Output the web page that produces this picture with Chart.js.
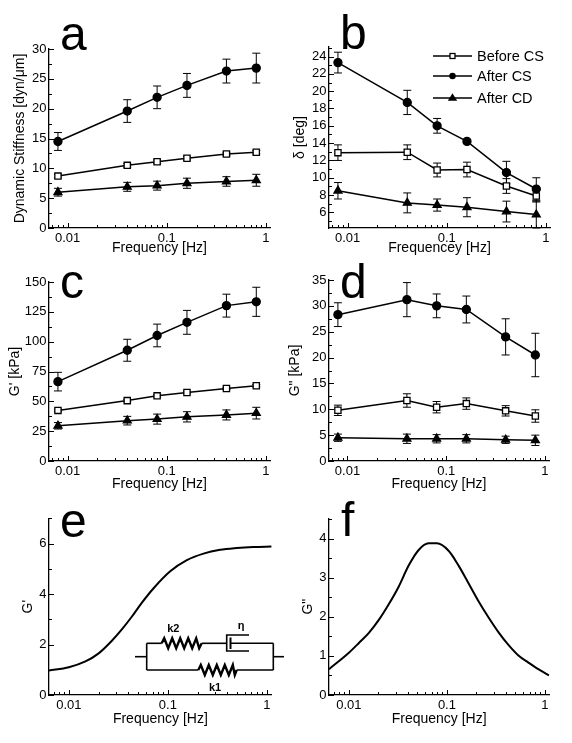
<!DOCTYPE html>
<html>
<head>
<meta charset="utf-8">
<script src="https://cdn.jsdelivr.net/npm/chart.js@4.4.0/dist/chart.umd.min.js"></script>
<style>
  html, body { margin: 0; padding: 0; background: #fff; }
  #page { position: relative; width: 572px; height: 743px; overflow: hidden; }
  canvas { position: absolute; }
  #overlay { position: absolute; left: 0; top: 0; pointer-events: none; }
  #overlay text { font-family: "Liberation Sans", Arial, sans-serif; fill: #000; }
</style>
</head>
<body>
<div id="page">
  <canvas id="pa" width="286" height="258" style="left:0;top:0"></canvas>
  <canvas id="pb" width="292" height="258" style="left:280px;top:0"></canvas>
  <canvas id="pc" width="286" height="250" style="left:0;top:258px"></canvas>
  <canvas id="pd" width="292" height="250" style="left:280px;top:258px"></canvas>
  <canvas id="pe" width="286" height="235" style="left:0;top:508px"></canvas>
  <canvas id="pf" width="292" height="235" style="left:280px;top:508px"></canvas>

  <svg id="overlay" width="572" height="743" viewBox="0 0 572 743">
    <!-- panel letters -->
    <g font-size="48">
      <text x="60" y="50">a</text>
      <text x="340" y="49">b</text>
      <text x="60" y="298">c</text>
      <text x="340" y="298">d</text>
      <text x="60" y="537">e</text>
      <text x="341" y="536">f</text>
    </g>
    <!-- legend of panel b -->
    <g stroke="#000" stroke-width="1.3">
      <line x1="433" y1="56" x2="472" y2="56"/>
      <rect x="450" y="53.5" width="5" height="5" fill="#fff"/>
      <line x1="433" y1="76" x2="472" y2="76"/>
      <circle cx="452.5" cy="76" r="2.6" fill="#000"/>
      <line x1="433" y1="98" x2="472" y2="98"/>
      <polygon points="452.5,94.5 456,100 449,100" fill="#000"/>
    </g>
    <g font-size="14.5">
      <text x="477" y="61">Before CS</text>
      <text x="477" y="81">After CS</text>
      <text x="477" y="103">After CD</text>
    </g>
    <!-- circuit sketch in panel e -->
    <g stroke="#000" stroke-width="1.6" fill="none">
      <line x1="135" y1="656.7" x2="146.7" y2="656.7"/>
      <line x1="146.7" y1="643.3" x2="146.7" y2="670"/>
      <line x1="273.3" y1="643.3" x2="273.3" y2="670"/>
      <line x1="273.3" y1="656.7" x2="284" y2="656.7"/>
      <line x1="146.7" y1="643.3" x2="161.7" y2="643.3"/>
      <polyline stroke-width="2.4" points="161.7,643.3 164.2,638.3 168.2,648.3 172.2,638.3 176.2,648.3 180.2,638.3 184.2,648.3 188.2,638.3 192.2,648.3 196.2,638.3 199.2,648.3 201.7,643.3"/>
      <line x1="201.7" y1="643.3" x2="226.7" y2="643.3"/>
      <polyline points="249,635 226.7,635 226.7,651 249,651"/>
      <line x1="230.5" y1="637.5" x2="230.5" y2="649" stroke-width="2"/>
      <line x1="230.5" y1="643.3" x2="273.3" y2="643.3"/>
      <line x1="146.7" y1="670" x2="198.3" y2="670"/>
      <polyline stroke-width="2.4" points="198.3,670 200.8,665 204.8,675 208.8,665 212.8,675 216.8,665 220.8,675 224.8,665 228.8,675 232.8,665 234.8,675 236.7,670"/>
      <line x1="236.7" y1="670" x2="273.3" y2="670"/>
    </g>
    <g font-size="11" font-weight="bold" text-anchor="middle">
      <text x="173.3" y="632">k2</text>
      <text x="241" y="629">η</text>
      <text x="215" y="690.5">k1</text>
    </g>
  </svg>
</div>

<script>
const FONT = '"Liberation Sans", Arial, sans-serif';

// shared frequencies of the measurements (Hz)
const freq = [0.008, 0.04, 0.08, 0.16, 0.4, 0.8];
const xTickValues = [0.01, 0.1, 1];
const seriesNames = ['Before CS', 'After CS', 'After CD'];

// a: dynamic stiffness [dyn/um]
const stiffBefore = [8.7, 10.5, 11.1, 11.7, 12.4, 12.7];
const stiffBeforeErr = [0.3, 0.3, 0.3, 0.3, 0.3, 0.3];
const stiffAfterCS = [14.5, 19.6, 21.9, 23.9, 26.3, 26.8];
const stiffAfterCSErr = [1.5, 1.9, 1.9, 2.0, 2.0, 2.5];
const stiffAfterCD = [6.0, 6.9, 7.1, 7.5, 7.8, 8.0];
const stiffAfterCDErr = [0.65, 0.75, 0.75, 0.85, 0.8, 1.0];

// b: phase angle delta [deg]
const deltaBefore = [12.9, 12.95, 10.9, 10.95, 9.05, 7.9];
const deltaBeforeErr = [0.9, 0.85, 0.8, 0.85, 0.85, 0.7];
const deltaAfterCS = [23.3, 18.7, 16.0, 14.2, 10.6, 8.7];
const deltaAfterCSErr = [1.2, 1.4, 0.85, 0.2, 1.3, 1.3];
const deltaAfterCD = [8.5, 7.1, 6.85, 6.6, 6.1, 5.75];
const deltaAfterCDErr = [0.95, 1.15, 0.7, 1.1, 1.2, 1.55];

// c: G' [kPa]
const gpBefore = [42.4, 50.6, 54.6, 57.4, 60.8, 63.0];
const gpBeforeErr = [1, 1, 1, 1, 1, 1];
const gpAfterCS = [66.5, 92.8, 105.2, 116.2, 130.2, 133.4];
const gpAfterCSErr = [7.8, 9.2, 9.5, 10, 9.6, 12.2];
const gpAfterCD = [29.5, 33.8, 35.1, 37.0, 38.6, 40.1];
const gpAfterCDErr = [2.7, 3.6, 4.2, 4.3, 4.2, 4.9];

// d: G" [kPa]
const gppBefore = [9.8, 11.7, 10.4, 11.1, 9.7, 8.7];
const gppBeforeErr = [1.0, 1.3, 1.1, 1.1, 1.0, 1.2];
const gppAfterCS = [28.3, 31.2, 30.0, 29.3, 24.0, 20.5];
const gppAfterCSErr = [2.3, 3.3, 2.3, 2.6, 3.5, 4.2];
const gppAfterCD = [4.5, 4.3, 4.3, 4.3, 4.1, 4.0];
const gppAfterCDErr = [0.7, 0.9, 0.8, 0.8, 0.7, 1.0];

// e, f: model curves
const modelFreqE = [0.0063, 0.01, 0.0147, 0.02, 0.0272, 0.0343, 0.0432, 0.0545, 0.0718, 0.1057, 0.1556, 0.229, 0.337, 0.497, 0.73, 1.117];
const modelGp = [0.97, 1.1, 1.33, 1.65, 2.15, 2.6, 3.1, 3.65, 4.23, 4.9, 5.34, 5.6, 5.75, 5.82, 5.86, 5.88];
const modelFreqF = [0.00627, 0.01, 0.01265, 0.016, 0.0202, 0.0255, 0.0322, 0.0407, 0.0515, 0.0651, 0.0791, 0.104, 0.1315, 0.166, 0.21, 0.265, 0.335, 0.424, 0.536, 0.677, 0.855, 1.1];
const modelGpp = [0.66, 1.08, 1.33, 1.59, 1.92, 2.32, 2.77, 3.31, 3.71, 3.88, 3.88, 3.69, 3.31, 2.86, 2.4, 1.99, 1.61, 1.28, 1.01, 0.83, 0.66, 0.5];

// y tick labels
const yTicksA = [0, 5, 10, 15, 20, 25, 30];
const yTicksB = [6, 8, 10, 12, 14, 16, 18, 20, 22, 24];
const yTicksC = [0, 25, 50, 75, 100, 125, 150];
const yTicksD = [0, 5, 10, 15, 20, 25, 30, 35];
const yTicksE = [0, 2, 4, 6];
const yTicksF = [0, 1, 2, 3, 4];

// vertical error bars, drawn under the lines and markers
const errorBars = {
  id: 'errorBars',
  beforeDatasetsDraw(chart) {
    const ctx = chart.ctx, xs = chart.scales.x, ys = chart.scales.y;
    ctx.save();
    ctx.strokeStyle = '#000';
    ctx.lineWidth = 1;
    chart.data.datasets.forEach(ds => {
      if (!ds.err) return;
      ds.data.forEach((p, i) => {
        const e = ds.err[i];
        const x = xs.getPixelForValue(p.x);
        const y1 = ys.getPixelForValue(p.y + e);
        const y2 = ys.getPixelForValue(p.y - e);
        ctx.beginPath();
        ctx.moveTo(x, y1); ctx.lineTo(x, y2);
        ctx.moveTo(x - 4, y1); ctx.lineTo(x + 4, y1);
        ctx.moveTo(x - 4, y2); ctx.lineTo(x + 4, y2);
        ctx.stroke();
      });
    });
    ctx.restore();
  }
};

// inward major/minor tick marks on both axes
const inTicks = {
  id: 'inTicks',
  afterDraw(chart, args, opts) {
    const ctx = chart.ctx, a = chart.chartArea;
    const xs = chart.scales.x, ys = chart.scales.y;
    ctx.save();
    ctx.strokeStyle = '#000';
    ctx.lineWidth = 1;
    ctx.beginPath();
    for (let d = -3; d <= 0; d++) {
      for (let m = 1; m <= 9; m++) {
        const v = m * Math.pow(10, d);
        if (v < xs.min || v > xs.max) continue;
        const px = Math.round(xs.getPixelForValue(v)) + 0.5;
        ctx.moveTo(px, a.bottom);
        ctx.lineTo(px, a.bottom - (m === 1 ? 5 : 3));
      }
    }
    const step = opts.yMinor;
    const major = ys.ticks.map(t => t.value);
    const first = Math.ceil(ys.min / step - 1e-6);
    for (let k = first; k * step <= ys.max + 1e-6; k++) {
      const v = k * step;
      const isMajor = major.some(m => Math.abs(m - v) < 1e-6);
      const py = Math.round(ys.getPixelForValue(v)) + 0.5;
      ctx.moveTo(a.left, py);
      ctx.lineTo(a.left + (isMajor ? 5 : 3), py);
    }
    ctx.stroke();
    ctx.restore();
  }
};

function points(xs, ys) {
  return xs.map((x, i) => ({ x: x, y: ys[i] }));
}

function measured(before, beforeErr, afterCS, afterCSErr, afterCD, afterCDErr) {
  const base = { borderColor: '#000', borderWidth: 1.5, tension: 0, fill: false, pointBorderColor: '#000', pointBorderWidth: 1.3 };
  return [
    Object.assign({}, base, { label: seriesNames[1], data: points(freq, afterCS), err: afterCSErr,
      pointStyle: 'circle', pointRadius: 4, pointBackgroundColor: '#000' }),
    Object.assign({}, base, { label: seriesNames[0], data: points(freq, before), err: beforeErr,
      pointStyle: 'rect', pointRadius: 4.4, pointBackgroundColor: '#fff' }),
    Object.assign({}, base, { label: seriesNames[2], data: points(freq, afterCD), err: afterCDErr,
      pointStyle: 'triangle', pointRadius: 4.6, pointBackgroundColor: '#000' })
  ];
}

function curve(xs, ys) {
  return [{ data: points(xs, ys), borderColor: '#000', borderWidth: 2, pointRadius: 0,
    cubicInterpolationMode: 'monotone', fill: false }];
}

function makePanel(id, cfg) {
  const tickFont = { family: FONT, size: 13 };
  const titleFont = { family: FONT, size: 14 };
  new Chart(document.getElementById(id), {
    type: 'line',
    data: { datasets: cfg.datasets },
    options: {
      responsive: false,
      animation: false,
      events: [],
      layout: { padding: cfg.pad },
      plugins: {
        legend: { display: false },
        tooltip: { enabled: false },
        inTicks: { yMinor: cfg.yMinor }
      },
      scales: {
        x: {
          type: 'logarithmic',
          min: cfg.xMin,
          max: cfg.xMax,
          afterBuildTicks: s => { s.ticks = xTickValues.map(v => ({ value: v })); },
          afterFit: s => { s.height = cfg.xh; },
          ticks: { font: tickFont, color: '#000', padding: 2.5, maxRotation: 0, autoSkip: false,
            callback: v => String(v) },
          grid: { display: false, drawTicks: false },
          border: { color: '#000', width: 1.3 },
          title: { display: true, text: cfg.xTitle, font: titleFont, color: '#000', padding: 0 }
        },
        y: {
          type: 'linear',
          min: cfg.yMin,
          max: cfg.yMax,
          afterBuildTicks: s => { s.ticks = cfg.yTicks.map(v => ({ value: v })); },
          afterFit: s => { s.width = 49; },
          ticks: { font: tickFont, color: '#000', padding: 2.5, callback: v => String(v) },
          grid: { display: false, drawTicks: false },
          border: { color: '#000', width: 1.3 },
          title: { display: true, text: cfg.yTitle, font: titleFont, color: '#000',
            padding: { top: cfg.yTitlePad, bottom: 0 } }
        }
      }
    },
    plugins: [errorBars, inTicks]
  });
}

makePanel('pa', {
  datasets: measured(stiffBefore, stiffBeforeErr, stiffAfterCS, stiffAfterCSErr, stiffAfterCD, stiffAfterCDErr),
  pad: { top: 49, right: 16, bottom: 1.6, left: 0 }, xh: 28.4,
  xMin: 0.0065, xMax: 1.1, yMin: 0, yMax: 30, yTicks: yTicksA, yMinor: 2.5,
  xTitle: 'Frequency [Hz]', yTitle: 'Dynamic Stiffness [dyn/\u03bcm]', yTitlePad: 11.6
});

makePanel('pb', {
  datasets: measured(deltaBefore, deltaBeforeErr, deltaAfterCS, deltaAfterCSErr, deltaAfterCD, deltaAfterCDErr),
  pad: { top: 47, right: 22, bottom: 1.6, left: 0 }, xh: 28.4,
  xMin: 0.0065, xMax: 1.1, yMin: 4.2, yMax: 25.1, yTicks: yTicksB, yMinor: 1,
  xTitle: 'Frequencey [Hz]', yTitle: '\u03b4 [deg]', yTitlePad: 11.6
});

makePanel('pc', {
  datasets: measured(gpBefore, gpBeforeErr, gpAfterCS, gpAfterCSErr, gpAfterCD, gpAfterCDErr),
  pad: { top: 24, right: 16, bottom: 15.6, left: 0 }, xh: 31.4,
  xMin: 0.0065, xMax: 1.1, yMin: 0, yMax: 150, yTicks: yTicksC, yMinor: 12.5,
  xTitle: 'Frequency [Hz]', yTitle: "G' [kPa]", yTitlePad: 6.6
});

makePanel('pd', {
  datasets: measured(gppBefore, gppBeforeErr, gppAfterCS, gppAfterCSErr, gppAfterCD, gppAfterCDErr),
  pad: { top: 22, right: 23, bottom: 15.6, left: 0 }, xh: 31.4,
  xMin: 0.0065, xMax: 1.1, yMin: 0, yMax: 35, yTicks: yTicksD, yMinor: 2.5,
  xTitle: 'Frequency [Hz]', yTitle: 'G" [kPa]', yTitlePad: 6.6
});

makePanel('pe', {
  datasets: curve(modelFreqE, modelGp),
  pad: { top: 6, right: 14.3, bottom: 15.6, left: 0 }, xh: 32.4,
  xMin: 0.0063, xMax: 1.12, yMin: 0, yMax: 7, yTicks: yTicksE, yMinor: 1,
  xTitle: 'Frequency [Hz]', yTitle: "G'", yTitlePad: 19.6
});

makePanel('pf', {
  datasets: curve(modelFreqF, modelGpp),
  pad: { top: 5, right: 22.7, bottom: 15.6, left: 0 }, xh: 32.4,
  xMin: 0.00627, xMax: 1.107, yMin: 0, yMax: 4.52, yTicks: yTicksF, yMinor: 0.5,
  xTitle: 'Frequency [Hz]', yTitle: 'G"', yTitlePad: 19.6
});
</script>
</body>
</html>
